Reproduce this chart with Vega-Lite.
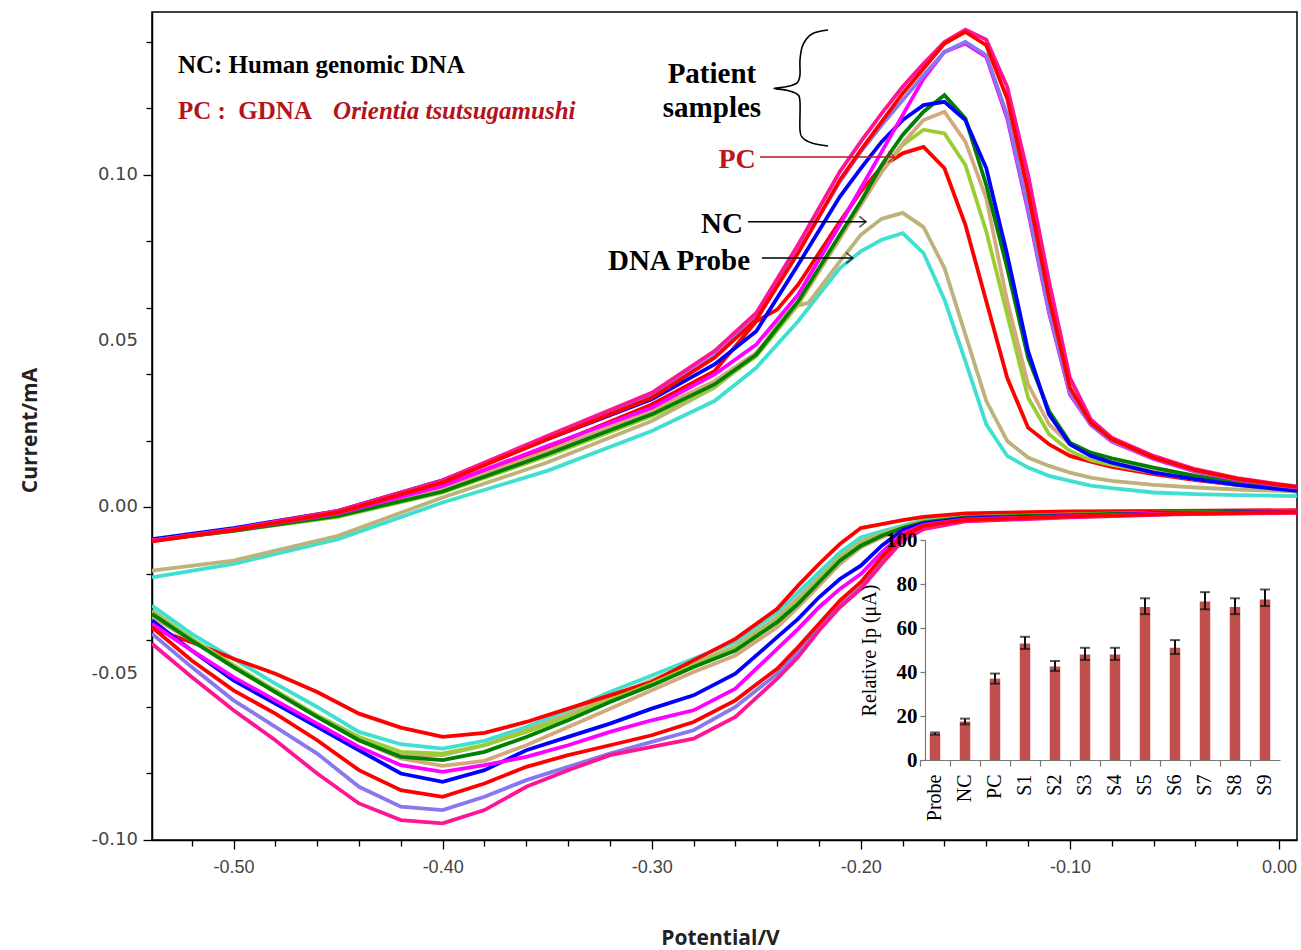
{
"$schema": "https://vega.github.io/schema/vega-lite/v6.json",
"width": 1145, "height": 828,
"autosize": {"type": "none"},
"padding": {"left": 152, "top": 12, "right": 4, "bottom": 110},
"background": "white",
"config": {"view": {"stroke": "#000", "strokeWidth": 1.5}, "axis": {"labelOverlap": false, "labelFlush": false, "labelBound": false, "grid": false}},
"datasets": {
"cv": [
{"s":"Probe","b":"u","v":-0.539,"i":-0.021},{"s":"Probe","b":"u","v":-0.5,"i":-0.017},{"s":"Probe","b":"u","v":-0.45,"i":-0.0095},{"s":"Probe","b":"u","v":-0.4,"i":0.0015},{"s":"Probe","b":"u","v":-0.35,"i":0.011},{"s":"Probe","b":"u","v":-0.3,"i":0.023},{"s":"Probe","b":"u","v":-0.27,"i":0.032},{"s":"Probe","b":"u","v":-0.25,"i":0.042},{"s":"Probe","b":"u","v":-0.23,"i":0.056},{"s":"Probe","b":"u","v":-0.21,"i":0.072},{"s":"Probe","b":"u","v":-0.2,"i":0.077},{"s":"Probe","b":"u","v":-0.19,"i":0.0805},{"s":"Probe","b":"u","v":-0.18,"i":0.0825},{"s":"Probe","b":"u","v":-0.17,"i":0.0765},{"s":"Probe","b":"u","v":-0.16,"i":0.0625},{"s":"Probe","b":"u","v":-0.15,"i":0.044},{"s":"Probe","b":"u","v":-0.14,"i":0.025},{"s":"Probe","b":"u","v":-0.13,"i":0.0155},{"s":"Probe","b":"u","v":-0.12,"i":0.012},{"s":"Probe","b":"u","v":-0.11,"i":0.0095},{"s":"Probe","b":"u","v":-0.1,"i":0.008},{"s":"Probe","b":"u","v":-0.09,"i":0.0066},{"s":"Probe","b":"u","v":-0.08,"i":0.0058},{"s":"Probe","b":"u","v":-0.06,"i":0.0045},{"s":"Probe","b":"u","v":-0.04,"i":0.004},{"s":"Probe","b":"u","v":-0.02,"i":0.0037},{"s":"Probe","b":"u","v":0.0,"i":0.0035},{"s":"Probe","b":"u","v":0.0086,"i":0.0034},
{"s":"NC","b":"u","v":-0.539,"i":-0.019},{"s":"NC","b":"u","v":-0.5,"i":-0.016},{"s":"NC","b":"u","v":-0.45,"i":-0.0085},{"s":"NC","b":"u","v":-0.4,"i":0.003},{"s":"NC","b":"u","v":-0.35,"i":0.0135},{"s":"NC","b":"u","v":-0.3,"i":0.026},{"s":"NC","b":"u","v":-0.27,"i":0.036},{"s":"NC","b":"u","v":-0.25,"i":0.046},{"s":"NC","b":"u","v":-0.24,"i":0.055},{"s":"NC","b":"u","v":-0.232,"i":0.0605},{"s":"NC","b":"u","v":-0.225,"i":0.0615},{"s":"NC","b":"u","v":-0.21,"i":0.074},{"s":"NC","b":"u","v":-0.2,"i":0.082},{"s":"NC","b":"u","v":-0.19,"i":0.0868},{"s":"NC","b":"u","v":-0.18,"i":0.0886},{"s":"NC","b":"u","v":-0.17,"i":0.0843},{"s":"NC","b":"u","v":-0.16,"i":0.072},{"s":"NC","b":"u","v":-0.15,"i":0.052},{"s":"NC","b":"u","v":-0.14,"i":0.032},{"s":"NC","b":"u","v":-0.13,"i":0.02},{"s":"NC","b":"u","v":-0.12,"i":0.015},{"s":"NC","b":"u","v":-0.11,"i":0.0125},{"s":"NC","b":"u","v":-0.1,"i":0.0105},{"s":"NC","b":"u","v":-0.09,"i":0.009},{"s":"NC","b":"u","v":-0.08,"i":0.008},{"s":"NC","b":"u","v":-0.06,"i":0.0068},{"s":"NC","b":"u","v":-0.04,"i":0.006},{"s":"NC","b":"u","v":-0.02,"i":0.0054},{"s":"NC","b":"u","v":0.0,"i":0.005},{"s":"NC","b":"u","v":0.0086,"i":0.0048},
{"s":"PC","b":"u","v":-0.539,"i":-0.01},{"s":"PC","b":"u","v":-0.5,"i":-0.0068},{"s":"PC","b":"u","v":-0.45,"i":-0.002},{"s":"PC","b":"u","v":-0.4,"i":0.0066},{"s":"PC","b":"u","v":-0.35,"i":0.018},{"s":"PC","b":"u","v":-0.3,"i":0.031},{"s":"PC","b":"u","v":-0.27,"i":0.041},{"s":"PC","b":"u","v":-0.25,"i":0.056},{"s":"PC","b":"u","v":-0.24,"i":0.0595},{"s":"PC","b":"u","v":-0.23,"i":0.067},{"s":"PC","b":"u","v":-0.21,"i":0.086},{"s":"PC","b":"u","v":-0.2,"i":0.095},{"s":"PC","b":"u","v":-0.19,"i":0.1025},{"s":"PC","b":"u","v":-0.18,"i":0.1065},{"s":"PC","b":"u","v":-0.17,"i":0.1084},{"s":"PC","b":"u","v":-0.16,"i":0.102},{"s":"PC","b":"u","v":-0.15,"i":0.085},{"s":"PC","b":"u","v":-0.14,"i":0.062},{"s":"PC","b":"u","v":-0.13,"i":0.039},{"s":"PC","b":"u","v":-0.12,"i":0.024},{"s":"PC","b":"u","v":-0.11,"i":0.019},{"s":"PC","b":"u","v":-0.1,"i":0.0155},{"s":"PC","b":"u","v":-0.09,"i":0.0138},{"s":"PC","b":"u","v":-0.08,"i":0.0122},{"s":"PC","b":"u","v":-0.06,"i":0.01},{"s":"PC","b":"u","v":-0.04,"i":0.0082},{"s":"PC","b":"u","v":-0.02,"i":0.0068},{"s":"PC","b":"u","v":0.0,"i":0.0058},{"s":"PC","b":"u","v":0.0086,"i":0.0055},
{"s":"S1","b":"u","v":-0.539,"i":-0.01},{"s":"S1","b":"u","v":-0.5,"i":-0.007},{"s":"S1","b":"u","v":-0.45,"i":-0.0028},{"s":"S1","b":"u","v":-0.4,"i":0.0045},{"s":"S1","b":"u","v":-0.35,"i":0.0155},{"s":"S1","b":"u","v":-0.3,"i":0.0275},{"s":"S1","b":"u","v":-0.27,"i":0.0365},{"s":"S1","b":"u","v":-0.25,"i":0.0455},{"s":"S1","b":"u","v":-0.23,"i":0.061},{"s":"S1","b":"u","v":-0.21,"i":0.081},{"s":"S1","b":"u","v":-0.2,"i":0.0915},{"s":"S1","b":"u","v":-0.19,"i":0.101},{"s":"S1","b":"u","v":-0.18,"i":0.109},{"s":"S1","b":"u","v":-0.17,"i":0.1136},{"s":"S1","b":"u","v":-0.16,"i":0.1125},{"s":"S1","b":"u","v":-0.15,"i":0.103},{"s":"S1","b":"u","v":-0.14,"i":0.083},{"s":"S1","b":"u","v":-0.13,"i":0.058},{"s":"S1","b":"u","v":-0.12,"i":0.033},{"s":"S1","b":"u","v":-0.11,"i":0.022},{"s":"S1","b":"u","v":-0.1,"i":0.017},{"s":"S1","b":"u","v":-0.09,"i":0.0142},{"s":"S1","b":"u","v":-0.08,"i":0.0128},{"s":"S1","b":"u","v":-0.06,"i":0.0105},{"s":"S1","b":"u","v":-0.04,"i":0.0085},{"s":"S1","b":"u","v":-0.02,"i":0.0068},{"s":"S1","b":"u","v":0.0,"i":0.0056},{"s":"S1","b":"u","v":0.0086,"i":0.0052},
{"s":"S2","b":"u","v":-0.539,"i":-0.01},{"s":"S2","b":"u","v":-0.5,"i":-0.0068},{"s":"S2","b":"u","v":-0.45,"i":-0.0022},{"s":"S2","b":"u","v":-0.4,"i":0.0055},{"s":"S2","b":"u","v":-0.35,"i":0.017},{"s":"S2","b":"u","v":-0.3,"i":0.029},{"s":"S2","b":"u","v":-0.27,"i":0.038},{"s":"S2","b":"u","v":-0.25,"i":0.0465},{"s":"S2","b":"u","v":-0.23,"i":0.0615},{"s":"S2","b":"u","v":-0.21,"i":0.081},{"s":"S2","b":"u","v":-0.2,"i":0.091},{"s":"S2","b":"u","v":-0.19,"i":0.101},{"s":"S2","b":"u","v":-0.18,"i":0.1095},{"s":"S2","b":"u","v":-0.17,"i":0.1165},{"s":"S2","b":"u","v":-0.16,"i":0.119},{"s":"S2","b":"u","v":-0.15,"i":0.11},{"s":"S2","b":"u","v":-0.14,"i":0.093},{"s":"S2","b":"u","v":-0.13,"i":0.062},{"s":"S2","b":"u","v":-0.12,"i":0.037},{"s":"S2","b":"u","v":-0.11,"i":0.025},{"s":"S2","b":"u","v":-0.1,"i":0.019},{"s":"S2","b":"u","v":-0.09,"i":0.016},{"s":"S2","b":"u","v":-0.08,"i":0.014},{"s":"S2","b":"u","v":-0.06,"i":0.0115},{"s":"S2","b":"u","v":-0.04,"i":0.0092},{"s":"S2","b":"u","v":-0.02,"i":0.0072},{"s":"S2","b":"u","v":0.0,"i":0.0058},{"s":"S2","b":"u","v":0.0086,"i":0.0053},
{"s":"S3","b":"u","v":-0.539,"i":-0.01},{"s":"S3","b":"u","v":-0.5,"i":-0.007},{"s":"S3","b":"u","v":-0.45,"i":-0.0025},{"s":"S3","b":"u","v":-0.4,"i":0.0048},{"s":"S3","b":"u","v":-0.35,"i":0.016},{"s":"S3","b":"u","v":-0.3,"i":0.028},{"s":"S3","b":"u","v":-0.27,"i":0.037},{"s":"S3","b":"u","v":-0.25,"i":0.046},{"s":"S3","b":"u","v":-0.23,"i":0.062},{"s":"S3","b":"u","v":-0.21,"i":0.082},{"s":"S3","b":"u","v":-0.2,"i":0.092},{"s":"S3","b":"u","v":-0.19,"i":0.103},{"s":"S3","b":"u","v":-0.18,"i":0.112},{"s":"S3","b":"u","v":-0.17,"i":0.119},{"s":"S3","b":"u","v":-0.16,"i":0.124},{"s":"S3","b":"u","v":-0.15,"i":0.117},{"s":"S3","b":"u","v":-0.14,"i":0.097},{"s":"S3","b":"u","v":-0.13,"i":0.072},{"s":"S3","b":"u","v":-0.12,"i":0.045},{"s":"S3","b":"u","v":-0.11,"i":0.029},{"s":"S3","b":"u","v":-0.1,"i":0.0195},{"s":"S3","b":"u","v":-0.09,"i":0.0165},{"s":"S3","b":"u","v":-0.08,"i":0.0148},{"s":"S3","b":"u","v":-0.06,"i":0.012},{"s":"S3","b":"u","v":-0.04,"i":0.0095},{"s":"S3","b":"u","v":-0.02,"i":0.0075},{"s":"S3","b":"u","v":0.0,"i":0.006},{"s":"S3","b":"u","v":0.0086,"i":0.0055},
{"s":"S4","b":"u","v":-0.539,"i":-0.0095},{"s":"S4","b":"u","v":-0.5,"i":-0.0062},{"s":"S4","b":"u","v":-0.45,"i":-0.001},{"s":"S4","b":"u","v":-0.4,"i":0.0082},{"s":"S4","b":"u","v":-0.35,"i":0.0205},{"s":"S4","b":"u","v":-0.3,"i":0.0325},{"s":"S4","b":"u","v":-0.27,"i":0.043},{"s":"S4","b":"u","v":-0.25,"i":0.053},{"s":"S4","b":"u","v":-0.23,"i":0.073},{"s":"S4","b":"u","v":-0.21,"i":0.0935},{"s":"S4","b":"u","v":-0.2,"i":0.102},{"s":"S4","b":"u","v":-0.19,"i":0.11},{"s":"S4","b":"u","v":-0.18,"i":0.1165},{"s":"S4","b":"u","v":-0.17,"i":0.121},{"s":"S4","b":"u","v":-0.16,"i":0.122},{"s":"S4","b":"u","v":-0.15,"i":0.1165},{"s":"S4","b":"u","v":-0.14,"i":0.102},{"s":"S4","b":"u","v":-0.13,"i":0.076},{"s":"S4","b":"u","v":-0.12,"i":0.047},{"s":"S4","b":"u","v":-0.11,"i":0.028},{"s":"S4","b":"u","v":-0.1,"i":0.019},{"s":"S4","b":"u","v":-0.09,"i":0.0155},{"s":"S4","b":"u","v":-0.08,"i":0.0135},{"s":"S4","b":"u","v":-0.06,"i":0.0105},{"s":"S4","b":"u","v":-0.04,"i":0.0085},{"s":"S4","b":"u","v":-0.02,"i":0.0068},{"s":"S4","b":"u","v":0.0,"i":0.0055},{"s":"S4","b":"u","v":0.0086,"i":0.005},
{"s":"S5","b":"u","v":-0.539,"i":-0.01},{"s":"S5","b":"u","v":-0.5,"i":-0.0068},{"s":"S5","b":"u","v":-0.45,"i":-0.0018},{"s":"S5","b":"u","v":-0.4,"i":0.0065},{"s":"S5","b":"u","v":-0.35,"i":0.0185},{"s":"S5","b":"u","v":-0.3,"i":0.03},{"s":"S5","b":"u","v":-0.27,"i":0.04},{"s":"S5","b":"u","v":-0.25,"i":0.049},{"s":"S5","b":"u","v":-0.23,"i":0.064},{"s":"S5","b":"u","v":-0.21,"i":0.085},{"s":"S5","b":"u","v":-0.2,"i":0.096},{"s":"S5","b":"u","v":-0.19,"i":0.107},{"s":"S5","b":"u","v":-0.18,"i":0.118},{"s":"S5","b":"u","v":-0.17,"i":0.129},{"s":"S5","b":"u","v":-0.16,"i":0.137},{"s":"S5","b":"u","v":-0.15,"i":0.1395},{"s":"S5","b":"u","v":-0.14,"i":0.1355},{"s":"S5","b":"u","v":-0.13,"i":0.117},{"s":"S5","b":"u","v":-0.12,"i":0.089},{"s":"S5","b":"u","v":-0.11,"i":0.0585},{"s":"S5","b":"u","v":-0.1,"i":0.034},{"s":"S5","b":"u","v":-0.09,"i":0.0248},{"s":"S5","b":"u","v":-0.08,"i":0.0198},{"s":"S5","b":"u","v":-0.06,"i":0.0146},{"s":"S5","b":"u","v":-0.04,"i":0.0108},{"s":"S5","b":"u","v":-0.02,"i":0.0083},{"s":"S5","b":"u","v":0.0,"i":0.0066},{"s":"S5","b":"u","v":0.0086,"i":0.006},
{"s":"S6","b":"u","v":-0.539,"i":-0.01},{"s":"S6","b":"u","v":-0.5,"i":-0.0067},{"s":"S6","b":"u","v":-0.45,"i":-0.0013},{"s":"S6","b":"u","v":-0.4,"i":0.0078},{"s":"S6","b":"u","v":-0.35,"i":0.021},{"s":"S6","b":"u","v":-0.3,"i":0.0335},{"s":"S6","b":"u","v":-0.27,"i":0.0455},{"s":"S6","b":"u","v":-0.25,"i":0.057},{"s":"S6","b":"u","v":-0.23,"i":0.077},{"s":"S6","b":"u","v":-0.21,"i":0.098},{"s":"S6","b":"u","v":-0.2,"i":0.107},{"s":"S6","b":"u","v":-0.19,"i":0.115},{"s":"S6","b":"u","v":-0.18,"i":0.1225},{"s":"S6","b":"u","v":-0.17,"i":0.13},{"s":"S6","b":"u","v":-0.16,"i":0.137},{"s":"S6","b":"u","v":-0.15,"i":0.14},{"s":"S6","b":"u","v":-0.14,"i":0.136},{"s":"S6","b":"u","v":-0.13,"i":0.118},{"s":"S6","b":"u","v":-0.12,"i":0.09},{"s":"S6","b":"u","v":-0.11,"i":0.059},{"s":"S6","b":"u","v":-0.1,"i":0.0345},{"s":"S6","b":"u","v":-0.09,"i":0.025},{"s":"S6","b":"u","v":-0.08,"i":0.02},{"s":"S6","b":"u","v":-0.06,"i":0.0148},{"s":"S6","b":"u","v":-0.04,"i":0.011},{"s":"S6","b":"u","v":-0.02,"i":0.0085},{"s":"S6","b":"u","v":0.0,"i":0.0067},{"s":"S6","b":"u","v":0.0086,"i":0.0061},
{"s":"S7","b":"u","v":-0.539,"i":-0.01},{"s":"S7","b":"u","v":-0.5,"i":-0.0065},{"s":"S7","b":"u","v":-0.45,"i":-0.001},{"s":"S7","b":"u","v":-0.4,"i":0.0082},{"s":"S7","b":"u","v":-0.35,"i":0.0215},{"s":"S7","b":"u","v":-0.3,"i":0.0345},{"s":"S7","b":"u","v":-0.27,"i":0.047},{"s":"S7","b":"u","v":-0.25,"i":0.0585},{"s":"S7","b":"u","v":-0.23,"i":0.079},{"s":"S7","b":"u","v":-0.21,"i":0.101},{"s":"S7","b":"u","v":-0.2,"i":0.11},{"s":"S7","b":"u","v":-0.19,"i":0.1185},{"s":"S7","b":"u","v":-0.18,"i":0.1265},{"s":"S7","b":"u","v":-0.17,"i":0.1335},{"s":"S7","b":"u","v":-0.16,"i":0.14},{"s":"S7","b":"u","v":-0.15,"i":0.1437},{"s":"S7","b":"u","v":-0.14,"i":0.1407},{"s":"S7","b":"u","v":-0.13,"i":0.1265},{"s":"S7","b":"u","v":-0.12,"i":0.1},{"s":"S7","b":"u","v":-0.11,"i":0.068},{"s":"S7","b":"u","v":-0.1,"i":0.039},{"s":"S7","b":"u","v":-0.09,"i":0.0265},{"s":"S7","b":"u","v":-0.08,"i":0.021},{"s":"S7","b":"u","v":-0.06,"i":0.0155},{"s":"S7","b":"u","v":-0.04,"i":0.0115},{"s":"S7","b":"u","v":-0.02,"i":0.0088},{"s":"S7","b":"u","v":0.0,"i":0.007},{"s":"S7","b":"u","v":0.0086,"i":0.0063},
{"s":"S8","b":"u","v":-0.539,"i":-0.0102},{"s":"S8","b":"u","v":-0.5,"i":-0.0068},{"s":"S8","b":"u","v":-0.45,"i":-0.0015},{"s":"S8","b":"u","v":-0.4,"i":0.0075},{"s":"S8","b":"u","v":-0.35,"i":0.0205},{"s":"S8","b":"u","v":-0.3,"i":0.033},{"s":"S8","b":"u","v":-0.27,"i":0.045},{"s":"S8","b":"u","v":-0.25,"i":0.0565},{"s":"S8","b":"u","v":-0.23,"i":0.0765},{"s":"S8","b":"u","v":-0.21,"i":0.0985},{"s":"S8","b":"u","v":-0.2,"i":0.1075},{"s":"S8","b":"u","v":-0.19,"i":0.116},{"s":"S8","b":"u","v":-0.18,"i":0.1245},{"s":"S8","b":"u","v":-0.17,"i":0.132},{"s":"S8","b":"u","v":-0.16,"i":0.1395},{"s":"S8","b":"u","v":-0.15,"i":0.143},{"s":"S8","b":"u","v":-0.14,"i":0.139},{"s":"S8","b":"u","v":-0.13,"i":0.123},{"s":"S8","b":"u","v":-0.12,"i":0.095},{"s":"S8","b":"u","v":-0.11,"i":0.063},{"s":"S8","b":"u","v":-0.1,"i":0.036},{"s":"S8","b":"u","v":-0.09,"i":0.0255},{"s":"S8","b":"u","v":-0.08,"i":0.0205},{"s":"S8","b":"u","v":-0.06,"i":0.015},{"s":"S8","b":"u","v":-0.04,"i":0.0112},{"s":"S8","b":"u","v":-0.02,"i":0.0086},{"s":"S8","b":"u","v":0.0,"i":0.0068},{"s":"S8","b":"u","v":0.0086,"i":0.0062},

{"s":"Probe","b":"l","v":0.0086,"i":-0.001},{"s":"Probe","b":"l","v":-0.05,"i":-0.0013},{"s":"Probe","b":"l","v":-0.1,"i":-0.0018},{"s":"Probe","b":"l","v":-0.15,"i":-0.0026},{"s":"Probe","b":"l","v":-0.17,"i":-0.0038},{"s":"Probe","b":"l","v":-0.18,"i":-0.0055},{"s":"Probe","b":"l","v":-0.19,"i":-0.0072},{"s":"Probe","b":"l","v":-0.2,"i":-0.009},{"s":"Probe","b":"l","v":-0.21,"i":-0.0135},{"s":"Probe","b":"l","v":-0.22,"i":-0.0195},{"s":"Probe","b":"l","v":-0.23,"i":-0.0255},{"s":"Probe","b":"l","v":-0.24,"i":-0.0315},{"s":"Probe","b":"l","v":-0.26,"i":-0.0405},{"s":"Probe","b":"l","v":-0.28,"i":-0.0455},{"s":"Probe","b":"l","v":-0.3,"i":-0.0505},{"s":"Probe","b":"l","v":-0.32,"i":-0.0555},{"s":"Probe","b":"l","v":-0.34,"i":-0.061},{"s":"Probe","b":"l","v":-0.36,"i":-0.066},{"s":"Probe","b":"l","v":-0.38,"i":-0.0702},{"s":"Probe","b":"l","v":-0.4,"i":-0.0725},{"s":"Probe","b":"l","v":-0.42,"i":-0.0712},{"s":"Probe","b":"l","v":-0.44,"i":-0.0675},{"s":"Probe","b":"l","v":-0.46,"i":-0.06},{"s":"Probe","b":"l","v":-0.48,"i":-0.053},{"s":"Probe","b":"l","v":-0.5,"i":-0.0455},{"s":"Probe","b":"l","v":-0.52,"i":-0.038},{"s":"Probe","b":"l","v":-0.539,"i":-0.0295},
{"s":"NC","b":"l","v":0.0086,"i":-0.0011},{"s":"NC","b":"l","v":-0.05,"i":-0.0014},{"s":"NC","b":"l","v":-0.1,"i":-0.002},{"s":"NC","b":"l","v":-0.15,"i":-0.0028},{"s":"NC","b":"l","v":-0.17,"i":-0.0041},{"s":"NC","b":"l","v":-0.18,"i":-0.0058},{"s":"NC","b":"l","v":-0.19,"i":-0.0078},{"s":"NC","b":"l","v":-0.2,"i":-0.0102},{"s":"NC","b":"l","v":-0.21,"i":-0.0148},{"s":"NC","b":"l","v":-0.22,"i":-0.021},{"s":"NC","b":"l","v":-0.23,"i":-0.0272},{"s":"NC","b":"l","v":-0.24,"i":-0.033},{"s":"NC","b":"l","v":-0.26,"i":-0.0418},{"s":"NC","b":"l","v":-0.28,"i":-0.0468},{"s":"NC","b":"l","v":-0.3,"i":-0.052},{"s":"NC","b":"l","v":-0.32,"i":-0.057},{"s":"NC","b":"l","v":-0.34,"i":-0.0622},{"s":"NC","b":"l","v":-0.36,"i":-0.067},{"s":"NC","b":"l","v":-0.38,"i":-0.0715},{"s":"NC","b":"l","v":-0.4,"i":-0.0745},{"s":"NC","b":"l","v":-0.42,"i":-0.0745},{"s":"NC","b":"l","v":-0.44,"i":-0.07},{"s":"NC","b":"l","v":-0.46,"i":-0.063},{"s":"NC","b":"l","v":-0.48,"i":-0.0555},{"s":"NC","b":"l","v":-0.5,"i":-0.0475},{"s":"NC","b":"l","v":-0.52,"i":-0.0395},{"s":"NC","b":"l","v":-0.539,"i":-0.031},
{"s":"PC","b":"l","v":0.0086,"i":-0.0008},{"s":"PC","b":"l","v":-0.05,"i":-0.001},{"s":"PC","b":"l","v":-0.1,"i":-0.0012},{"s":"PC","b":"l","v":-0.15,"i":-0.0018},{"s":"PC","b":"l","v":-0.17,"i":-0.0028},{"s":"PC","b":"l","v":-0.18,"i":-0.0038},{"s":"PC","b":"l","v":-0.19,"i":-0.005},{"s":"PC","b":"l","v":-0.2,"i":-0.0062},{"s":"PC","b":"l","v":-0.21,"i":-0.011},{"s":"PC","b":"l","v":-0.22,"i":-0.017},{"s":"PC","b":"l","v":-0.23,"i":-0.0235},{"s":"PC","b":"l","v":-0.24,"i":-0.0305},{"s":"PC","b":"l","v":-0.26,"i":-0.0395},{"s":"PC","b":"l","v":-0.28,"i":-0.046},{"s":"PC","b":"l","v":-0.3,"i":-0.0525},{"s":"PC","b":"l","v":-0.32,"i":-0.0565},{"s":"PC","b":"l","v":-0.34,"i":-0.0605},{"s":"PC","b":"l","v":-0.36,"i":-0.0645},{"s":"PC","b":"l","v":-0.38,"i":-0.0678},{"s":"PC","b":"l","v":-0.4,"i":-0.069},{"s":"PC","b":"l","v":-0.42,"i":-0.0662},{"s":"PC","b":"l","v":-0.44,"i":-0.062},{"s":"PC","b":"l","v":-0.46,"i":-0.0555},{"s":"PC","b":"l","v":-0.48,"i":-0.05},{"s":"PC","b":"l","v":-0.5,"i":-0.0455},{"s":"PC","b":"l","v":-0.52,"i":-0.0405},{"s":"PC","b":"l","v":-0.539,"i":-0.0364},
{"s":"S1","b":"l","v":0.0086,"i":-0.0012},{"s":"S1","b":"l","v":-0.05,"i":-0.0015},{"s":"S1","b":"l","v":-0.1,"i":-0.0021},{"s":"S1","b":"l","v":-0.15,"i":-0.0029},{"s":"S1","b":"l","v":-0.17,"i":-0.0043},{"s":"S1","b":"l","v":-0.18,"i":-0.006},{"s":"S1","b":"l","v":-0.19,"i":-0.0082},{"s":"S1","b":"l","v":-0.2,"i":-0.011},{"s":"S1","b":"l","v":-0.21,"i":-0.0155},{"s":"S1","b":"l","v":-0.22,"i":-0.022},{"s":"S1","b":"l","v":-0.23,"i":-0.0285},{"s":"S1","b":"l","v":-0.24,"i":-0.034},{"s":"S1","b":"l","v":-0.26,"i":-0.0425},{"s":"S1","b":"l","v":-0.28,"i":-0.0475},{"s":"S1","b":"l","v":-0.3,"i":-0.053},{"s":"S1","b":"l","v":-0.32,"i":-0.058},{"s":"S1","b":"l","v":-0.34,"i":-0.063},{"s":"S1","b":"l","v":-0.36,"i":-0.0675},{"s":"S1","b":"l","v":-0.38,"i":-0.0715},{"s":"S1","b":"l","v":-0.4,"i":-0.074},{"s":"S1","b":"l","v":-0.42,"i":-0.0735},{"s":"S1","b":"l","v":-0.44,"i":-0.069},{"s":"S1","b":"l","v":-0.46,"i":-0.0625},{"s":"S1","b":"l","v":-0.48,"i":-0.055},{"s":"S1","b":"l","v":-0.5,"i":-0.0475},{"s":"S1","b":"l","v":-0.52,"i":-0.0395},{"s":"S1","b":"l","v":-0.539,"i":-0.0315},
{"s":"S2","b":"l","v":0.0086,"i":-0.0013},{"s":"S2","b":"l","v":-0.05,"i":-0.0016},{"s":"S2","b":"l","v":-0.1,"i":-0.0023},{"s":"S2","b":"l","v":-0.15,"i":-0.0031},{"s":"S2","b":"l","v":-0.17,"i":-0.0047},{"s":"S2","b":"l","v":-0.18,"i":-0.0065},{"s":"S2","b":"l","v":-0.19,"i":-0.009},{"s":"S2","b":"l","v":-0.2,"i":-0.012},{"s":"S2","b":"l","v":-0.21,"i":-0.017},{"s":"S2","b":"l","v":-0.22,"i":-0.0235},{"s":"S2","b":"l","v":-0.23,"i":-0.03},{"s":"S2","b":"l","v":-0.24,"i":-0.036},{"s":"S2","b":"l","v":-0.26,"i":-0.0445},{"s":"S2","b":"l","v":-0.28,"i":-0.0495},{"s":"S2","b":"l","v":-0.3,"i":-0.055},{"s":"S2","b":"l","v":-0.32,"i":-0.0605},{"s":"S2","b":"l","v":-0.34,"i":-0.066},{"s":"S2","b":"l","v":-0.36,"i":-0.0715},{"s":"S2","b":"l","v":-0.38,"i":-0.0762},{"s":"S2","b":"l","v":-0.4,"i":-0.0777},{"s":"S2","b":"l","v":-0.42,"i":-0.0755},{"s":"S2","b":"l","v":-0.44,"i":-0.07},{"s":"S2","b":"l","v":-0.46,"i":-0.063},{"s":"S2","b":"l","v":-0.48,"i":-0.0555},{"s":"S2","b":"l","v":-0.5,"i":-0.048},{"s":"S2","b":"l","v":-0.52,"i":-0.04},{"s":"S2","b":"l","v":-0.539,"i":-0.033},
{"s":"S3","b":"l","v":0.0086,"i":-0.0012},{"s":"S3","b":"l","v":-0.05,"i":-0.0015},{"s":"S3","b":"l","v":-0.1,"i":-0.0022},{"s":"S3","b":"l","v":-0.15,"i":-0.003},{"s":"S3","b":"l","v":-0.17,"i":-0.0045},{"s":"S3","b":"l","v":-0.18,"i":-0.0062},{"s":"S3","b":"l","v":-0.19,"i":-0.0085},{"s":"S3","b":"l","v":-0.2,"i":-0.0115},{"s":"S3","b":"l","v":-0.21,"i":-0.016},{"s":"S3","b":"l","v":-0.22,"i":-0.0225},{"s":"S3","b":"l","v":-0.23,"i":-0.029},{"s":"S3","b":"l","v":-0.24,"i":-0.0345},{"s":"S3","b":"l","v":-0.26,"i":-0.043},{"s":"S3","b":"l","v":-0.28,"i":-0.048},{"s":"S3","b":"l","v":-0.3,"i":-0.0535},{"s":"S3","b":"l","v":-0.32,"i":-0.0585},{"s":"S3","b":"l","v":-0.34,"i":-0.064},{"s":"S3","b":"l","v":-0.36,"i":-0.069},{"s":"S3","b":"l","v":-0.38,"i":-0.0735},{"s":"S3","b":"l","v":-0.4,"i":-0.076},{"s":"S3","b":"l","v":-0.42,"i":-0.075},{"s":"S3","b":"l","v":-0.44,"i":-0.07},{"s":"S3","b":"l","v":-0.46,"i":-0.063},{"s":"S3","b":"l","v":-0.48,"i":-0.0555},{"s":"S3","b":"l","v":-0.5,"i":-0.048},{"s":"S3","b":"l","v":-0.52,"i":-0.04},{"s":"S3","b":"l","v":-0.539,"i":-0.032},
{"s":"S4","b":"l","v":0.0086,"i":-0.0013},{"s":"S4","b":"l","v":-0.05,"i":-0.0017},{"s":"S4","b":"l","v":-0.1,"i":-0.0025},{"s":"S4","b":"l","v":-0.15,"i":-0.0033},{"s":"S4","b":"l","v":-0.17,"i":-0.0048},{"s":"S4","b":"l","v":-0.18,"i":-0.0068},{"s":"S4","b":"l","v":-0.19,"i":-0.0115},{"s":"S4","b":"l","v":-0.2,"i":-0.0175},{"s":"S4","b":"l","v":-0.21,"i":-0.0215},{"s":"S4","b":"l","v":-0.22,"i":-0.027},{"s":"S4","b":"l","v":-0.23,"i":-0.0335},{"s":"S4","b":"l","v":-0.24,"i":-0.039},{"s":"S4","b":"l","v":-0.26,"i":-0.05},{"s":"S4","b":"l","v":-0.28,"i":-0.0565},{"s":"S4","b":"l","v":-0.3,"i":-0.0605},{"s":"S4","b":"l","v":-0.32,"i":-0.065},{"s":"S4","b":"l","v":-0.34,"i":-0.069},{"s":"S4","b":"l","v":-0.36,"i":-0.073},{"s":"S4","b":"l","v":-0.38,"i":-0.079},{"s":"S4","b":"l","v":-0.4,"i":-0.0825},{"s":"S4","b":"l","v":-0.42,"i":-0.08},{"s":"S4","b":"l","v":-0.44,"i":-0.073},{"s":"S4","b":"l","v":-0.46,"i":-0.066},{"s":"S4","b":"l","v":-0.48,"i":-0.059},{"s":"S4","b":"l","v":-0.5,"i":-0.052},{"s":"S4","b":"l","v":-0.52,"i":-0.043},{"s":"S4","b":"l","v":-0.539,"i":-0.034},
{"s":"S5","b":"l","v":0.0086,"i":-0.0014},{"s":"S5","b":"l","v":-0.05,"i":-0.0018},{"s":"S5","b":"l","v":-0.1,"i":-0.0026},{"s":"S5","b":"l","v":-0.15,"i":-0.0036},{"s":"S5","b":"l","v":-0.17,"i":-0.0052},{"s":"S5","b":"l","v":-0.18,"i":-0.0078},{"s":"S5","b":"l","v":-0.19,"i":-0.0135},{"s":"S5","b":"l","v":-0.2,"i":-0.02},{"s":"S5","b":"l","v":-0.21,"i":-0.0245},{"s":"S5","b":"l","v":-0.22,"i":-0.03},{"s":"S5","b":"l","v":-0.23,"i":-0.0365},{"s":"S5","b":"l","v":-0.24,"i":-0.0425},{"s":"S5","b":"l","v":-0.26,"i":-0.0545},{"s":"S5","b":"l","v":-0.28,"i":-0.061},{"s":"S5","b":"l","v":-0.3,"i":-0.064},{"s":"S5","b":"l","v":-0.32,"i":-0.0675},{"s":"S5","b":"l","v":-0.34,"i":-0.0715},{"s":"S5","b":"l","v":-0.36,"i":-0.075},{"s":"S5","b":"l","v":-0.38,"i":-0.0775},{"s":"S5","b":"l","v":-0.4,"i":-0.0795},{"s":"S5","b":"l","v":-0.42,"i":-0.0775},{"s":"S5","b":"l","v":-0.44,"i":-0.072},{"s":"S5","b":"l","v":-0.46,"i":-0.065},{"s":"S5","b":"l","v":-0.48,"i":-0.058},{"s":"S5","b":"l","v":-0.5,"i":-0.051},{"s":"S5","b":"l","v":-0.52,"i":-0.043},{"s":"S5","b":"l","v":-0.539,"i":-0.035},
{"s":"S6","b":"l","v":0.0086,"i":-0.0015},{"s":"S6","b":"l","v":-0.05,"i":-0.002},{"s":"S6","b":"l","v":-0.1,"i":-0.0028},{"s":"S6","b":"l","v":-0.15,"i":-0.004},{"s":"S6","b":"l","v":-0.17,"i":-0.006},{"s":"S6","b":"l","v":-0.18,"i":-0.0095},{"s":"S6","b":"l","v":-0.19,"i":-0.0165},{"s":"S6","b":"l","v":-0.2,"i":-0.024},{"s":"S6","b":"l","v":-0.21,"i":-0.0295},{"s":"S6","b":"l","v":-0.22,"i":-0.0365},{"s":"S6","b":"l","v":-0.23,"i":-0.0435},{"s":"S6","b":"l","v":-0.24,"i":-0.05},{"s":"S6","b":"l","v":-0.26,"i":-0.06},{"s":"S6","b":"l","v":-0.28,"i":-0.067},{"s":"S6","b":"l","v":-0.3,"i":-0.0705},{"s":"S6","b":"l","v":-0.32,"i":-0.074},{"s":"S6","b":"l","v":-0.34,"i":-0.078},{"s":"S6","b":"l","v":-0.36,"i":-0.082},{"s":"S6","b":"l","v":-0.38,"i":-0.087},{"s":"S6","b":"l","v":-0.4,"i":-0.091},{"s":"S6","b":"l","v":-0.42,"i":-0.09},{"s":"S6","b":"l","v":-0.44,"i":-0.084},{"s":"S6","b":"l","v":-0.46,"i":-0.074},{"s":"S6","b":"l","v":-0.48,"i":-0.066},{"s":"S6","b":"l","v":-0.5,"i":-0.058},{"s":"S6","b":"l","v":-0.52,"i":-0.048},{"s":"S6","b":"l","v":-0.539,"i":-0.038},
{"s":"S7","b":"l","v":0.0086,"i":-0.0016},{"s":"S7","b":"l","v":-0.05,"i":-0.0021},{"s":"S7","b":"l","v":-0.1,"i":-0.003},{"s":"S7","b":"l","v":-0.15,"i":-0.0042},{"s":"S7","b":"l","v":-0.17,"i":-0.0065},{"s":"S7","b":"l","v":-0.18,"i":-0.01},{"s":"S7","b":"l","v":-0.19,"i":-0.017},{"s":"S7","b":"l","v":-0.2,"i":-0.0245},{"s":"S7","b":"l","v":-0.21,"i":-0.03},{"s":"S7","b":"l","v":-0.22,"i":-0.037},{"s":"S7","b":"l","v":-0.23,"i":-0.045},{"s":"S7","b":"l","v":-0.24,"i":-0.0515},{"s":"S7","b":"l","v":-0.26,"i":-0.063},{"s":"S7","b":"l","v":-0.28,"i":-0.0695},{"s":"S7","b":"l","v":-0.3,"i":-0.072},{"s":"S7","b":"l","v":-0.32,"i":-0.0745},{"s":"S7","b":"l","v":-0.34,"i":-0.079},{"s":"S7","b":"l","v":-0.36,"i":-0.084},{"s":"S7","b":"l","v":-0.38,"i":-0.091},{"s":"S7","b":"l","v":-0.4,"i":-0.095},{"s":"S7","b":"l","v":-0.42,"i":-0.094},{"s":"S7","b":"l","v":-0.44,"i":-0.089},{"s":"S7","b":"l","v":-0.46,"i":-0.08},{"s":"S7","b":"l","v":-0.48,"i":-0.07},{"s":"S7","b":"l","v":-0.5,"i":-0.061},{"s":"S7","b":"l","v":-0.52,"i":-0.051},{"s":"S7","b":"l","v":-0.539,"i":-0.041},
{"s":"S8","b":"l","v":0.0086,"i":-0.0014},{"s":"S8","b":"l","v":-0.05,"i":-0.0019},{"s":"S8","b":"l","v":-0.1,"i":-0.0027},{"s":"S8","b":"l","v":-0.15,"i":-0.0037},{"s":"S8","b":"l","v":-0.17,"i":-0.0055},{"s":"S8","b":"l","v":-0.18,"i":-0.0085},{"s":"S8","b":"l","v":-0.19,"i":-0.015},{"s":"S8","b":"l","v":-0.2,"i":-0.0225},{"s":"S8","b":"l","v":-0.21,"i":-0.028},{"s":"S8","b":"l","v":-0.22,"i":-0.035},{"s":"S8","b":"l","v":-0.23,"i":-0.042},{"s":"S8","b":"l","v":-0.24,"i":-0.0485},{"s":"S8","b":"l","v":-0.26,"i":-0.058},{"s":"S8","b":"l","v":-0.28,"i":-0.0645},{"s":"S8","b":"l","v":-0.3,"i":-0.0685},{"s":"S8","b":"l","v":-0.32,"i":-0.0715},{"s":"S8","b":"l","v":-0.34,"i":-0.0745},{"s":"S8","b":"l","v":-0.36,"i":-0.078},{"s":"S8","b":"l","v":-0.38,"i":-0.083},{"s":"S8","b":"l","v":-0.4,"i":-0.087},{"s":"S8","b":"l","v":-0.42,"i":-0.085},{"s":"S8","b":"l","v":-0.44,"i":-0.079},{"s":"S8","b":"l","v":-0.46,"i":-0.07},{"s":"S8","b":"l","v":-0.48,"i":-0.062},{"s":"S8","b":"l","v":-0.5,"i":-0.055},{"s":"S8","b":"l","v":-0.52,"i":-0.046},{"s":"S8","b":"l","v":-0.539,"i":-0.036}
],
"bars": [
{"c":"Probe","m":12,"lo":11.5,"hi":12.5},{"c":"NC","m":17.5,"lo":16.2,"hi":18.8},{"c":"PC","m":37,"lo":34.7,"hi":39.3},{"c":"S1","m":53,"lo":50.5,"hi":56},{"c":"S2","m":42.5,"lo":40.5,"hi":45},{"c":"S3","m":48,"lo":45.5,"hi":51},{"c":"S4","m":48,"lo":45.5,"hi":51},{"c":"S5","m":69.5,"lo":66.3,"hi":73.5},{"c":"S6","m":51,"lo":48.2,"hi":54.5},{"c":"S7","m":72,"lo":68.5,"hi":76.3},{"c":"S8","m":69.5,"lo":66.3,"hi":73.5},{"c":"S9","m":73,"lo":70,"hi":77.5}
],
"brace": [
{"k":1,"v":-0.2157,"i":0.1436},{"k":2,"v":-0.2234,"i":0.1424},{"k":3,"v":-0.2277,"i":0.1391},{"k":4,"v":-0.2291,"i":0.1346},{"k":5,"v":-0.2291,"i":0.1301},{"k":6,"v":-0.2305,"i":0.1277},{"k":7,"v":-0.2358,"i":0.1265},{"k":8,"v":-0.2415,"i":0.126},{"k":9,"v":-0.2358,"i":0.1255},{"k":10,"v":-0.2305,"i":0.1243},{"k":11,"v":-0.2291,"i":0.122},{"k":12,"v":-0.2291,"i":0.1135},{"k":13,"v":-0.2277,"i":0.1111},{"k":14,"v":-0.2234,"i":0.1096},{"k":15,"v":-0.2157,"i":0.1087}
],
"ylabels": [
{"v":-0.539,"i":0.1,"t":"0.10"},{"v":-0.539,"i":0.05,"t":"0.05"},{"v":-0.539,"i":0.0,"t":"0.00"},{"v":-0.539,"i":-0.05,"t":"-0.05"},{"v":-0.539,"i":-0.1,"t":"-0.10"}
]
},
"layer": [
{
"layer": [
{
"data": {"name": "cv"},
"mark": {"type": "line", "strokeWidth": 3.8, "clip": true},
"encoding": {
"x": {"field": "v", "type": "quantitative",
 "scale": {"domain": [-0.539, 0.0086], "nice": false, "zero": false},
 "axis": {"values": [-0.52,-0.5,-0.48,-0.46,-0.44,-0.42,-0.4,-0.38,-0.36,-0.34,-0.32,-0.3,-0.28,-0.26,-0.24,-0.22,-0.2,-0.18,-0.16,-0.14,-0.12,-0.1,-0.08,-0.06,-0.04,-0.02,0],
  "labelExpr": "abs(round(datum.value*50)) % 5 === 0 ? (datum.value < -0.0001 ? '-' : '') + format(abs(datum.value), '.2f') : ''",
  "tickSize": {"condition": {"test": "abs(round(datum.value*50)) % 5 === 0", "value": 9}, "value": 6},
  "labelOverlap": false, "labelFlush": false,
  "labelFont": "Liberation Sans", "labelFontSize": 18, "labelColor": "#444", "labelPadding": 9,
  "domainColor": "#000", "domainWidth": 1.5, "tickColor": "#000", "tickWidth": 1.3,
  "title": "Potential/V", "titleFont": "Open Sans", "titleFontSize": 21, "titleFontWeight": "bold", "titleColor": "#222",
  "titleX": 568, "titleY": 98, "titleAlign": "center", "titleBaseline": "middle"}},
"y": {"field": "i", "type": "quantitative",
 "scale": {"domain": [-0.1, 0.149], "nice": false, "zero": false},
 "axis": {"values": [-0.1,-0.09,-0.08,-0.07,-0.06,-0.05,-0.04,-0.03,-0.02,-0.01,0,0.01,0.02,0.03,0.04,0.05,0.06,0.07,0.08,0.09,0.1,0.11,0.12,0.13,0.14],
  "labels": false,
  "tickSize": {"condition": {"test": "abs(datum.value*20 - round(datum.value*20)) < 0.01", "value": 9}, "value": 6},
  "domainColor": "#000", "domainWidth": 1.5, "tickColor": "#000", "tickWidth": 1.3,
  "title": "Current/mA", "titleFont": "Open Sans", "titleFontSize": 21, "titleFontWeight": "bold", "titleColor": "#222",
  "titleX": -122, "titleY": 418, "titleAngle": 270, "titleAlign": "center", "titleBaseline": "middle"}},
"color": {"field": "s", "type": "nominal", "legend": null,
 "scale": {"domain": ["Probe","NC","PC","S1","S2","S3","S4","S5","S6","S7","S8"],
  "range": ["#40E0D0","#BDB27A","#FF0000","#9ACD32","#D2A87C","#008000","#0000FF","#FF00FF","#8878EE","#FF1493","#FF0000"]}},
"detail": {"field": "b"}
}
},
{
"data": {"name": "ylabels"},
"mark": {"type": "text", "align": "right", "baseline": "middle", "dx": -14, "font": "DejaVu Sans", "fontSize": 18, "color": "#444", "clip": false},
"encoding": {"x": {"field": "v", "type": "quantitative"}, "y": {"field": "i", "type": "quantitative"}, "text": {"field": "t"}}
},
{
"data": {"name": "brace"},
"mark": {"type": "line", "color": "#000", "strokeWidth": 1.6, "interpolate": "cardinal"},
"encoding": {"x": {"field": "v", "type": "quantitative"}, "y": {"field": "i", "type": "quantitative"}, "order": {"field": "k"}}
},
{
"data": {"values": [{"v": -0.2482, "v2": -0.1837, "i": 0.1054}]},
"mark": {"type": "rule", "color": "#C0151B", "strokeWidth": 1.5},
"encoding": {"x": {"field": "v", "type": "quantitative"}, "x2": {"field": "v2"}, "y": {"field": "i", "type": "quantitative"}}
},
{
"data": {"values": [{"v": -0.254, "v2": -0.1975, "i": 0.0859}, {"v": -0.2473, "v2": -0.2038, "i": 0.075}]},
"mark": {"type": "rule", "color": "#000", "strokeWidth": 1.5},
"encoding": {"x": {"field": "v", "type": "quantitative"}, "x2": {"field": "v2"}, "y": {"field": "i", "type": "quantitative"}}
},
{
"data": {"values": [{"v": -0.1837, "i": 0.1054}]},
"mark": {"type": "point", "shape": "M-1,-0.8L0,0L-1,0.8", "filled": false, "size": 180, "strokeWidth": 1.5, "color": "#C0151B"},
"encoding": {"x": {"field": "v", "type": "quantitative"}, "y": {"field": "i", "type": "quantitative"}}
},
{
"data": {"values": [{"v": -0.1975, "i": 0.0859}, {"v": -0.2038, "i": 0.075}]},
"mark": {"type": "point", "shape": "M-1,-0.8L0,0L-1,0.8", "filled": false, "size": 180, "strokeWidth": 1.5, "color": "#000"},
"encoding": {"x": {"field": "v", "type": "quantitative"}, "y": {"field": "i", "type": "quantitative"}}
},
{
"data": {"values": [{"t": "NC: Human genomic DNA", "v": -0.5266, "i": 0.1307}]},
"mark": {"type": "text", "align": "left", "baseline": "alphabetic", "font": "Liberation Serif", "fontWeight": "bold", "fontSize": 25, "color": "#000"},
"encoding": {"x": {"field": "v", "type": "quantitative"}, "y": {"field": "i", "type": "quantitative"}, "text": {"field": "t"}}
},
{
"data": {"values": [{"t": "PC :\u00a0 GDNA", "v": -0.5266, "i": 0.1168}]},
"mark": {"type": "text", "align": "left", "baseline": "alphabetic", "font": "Liberation Serif", "fontWeight": "bold", "fontSize": 25, "color": "#B5121B"},
"encoding": {"x": {"field": "v", "type": "quantitative"}, "y": {"field": "i", "type": "quantitative"}, "text": {"field": "t"}}
},
{
"data": {"values": [{"t": "Orientia tsutsugamushi", "v": -0.4524, "i": 0.1168}]},
"mark": {"type": "text", "align": "left", "baseline": "alphabetic", "font": "Liberation Serif", "fontWeight": "bold", "fontStyle": "italic", "fontSize": 25, "color": "#B5121B"},
"encoding": {"x": {"field": "v", "type": "quantitative"}, "y": {"field": "i", "type": "quantitative"}, "text": {"field": "t"}}
},
{
"data": {"values": [{"t": "Patient", "v": -0.2712, "i": 0.1277}, {"t": "samples", "v": -0.2712, "i": 0.1174}]},
"mark": {"type": "text", "align": "center", "baseline": "alphabetic", "font": "Liberation Serif", "fontWeight": "bold", "fontSize": 29, "color": "#000"},
"encoding": {"x": {"field": "v", "type": "quantitative"}, "y": {"field": "i", "type": "quantitative"}, "text": {"field": "t"}}
},
{
"data": {"values": [{"t": "PC", "v": -0.2592, "i": 0.1021}]},
"mark": {"type": "text", "align": "center", "baseline": "alphabetic", "font": "Liberation Serif", "fontWeight": "bold", "fontSize": 28, "color": "#C0151B"},
"encoding": {"x": {"field": "v", "type": "quantitative"}, "y": {"field": "i", "type": "quantitative"}, "text": {"field": "t"}}
},
{
"data": {"values": [{"t": "NC", "v": -0.2564, "i": 0.0826}, {"t": "DNA Probe", "v": -0.253, "i": 0.0714}]},
"mark": {"type": "text", "align": "right", "baseline": "alphabetic", "font": "Liberation Serif", "fontWeight": "bold", "fontSize": 29, "color": "#000"},
"encoding": {"x": {"field": "v", "type": "quantitative"}, "y": {"field": "i", "type": "quantitative"}, "text": {"field": "t"}}
}
]
},
{
"data": {"name": "bars"},
"layer": [
{
"mark": {"type": "bar", "color": "#C0504D", "width": {"band": 0.35}},
"encoding": {
"x": {"field": "c", "type": "nominal", "sort": null,
 "scale": {"range": [768, 1128], "paddingInner": 0, "paddingOuter": 0},
 "axis": {"orient": "bottom", "offset": -80, "labelAngle": 270, "labelAlign": "right", "labelBaseline": "middle",
  "labelFont": "Liberation Serif", "labelFontSize": 20, "labelColor": "#000", "labelPadding": 8, "zindex": 2,
  "bandPosition": 0, "tickSize": 6, "domainColor": "#777", "tickColor": "#777", "domainWidth": 1.2, "tickWidth": 1.2, "title": null}},
"y": {"field": "m", "type": "quantitative",
 "scale": {"domain": [0, 100], "range": [748, 528], "nice": false},
 "axis": {"orient": "left", "offset": -773, "values": [0, 20, 40, 60, 80, 100], "zindex": 2,
  "labelFont": "Liberation Serif", "labelFontWeight": "bold", "labelFontSize": 21, "labelColor": "#000", "labelPadding": 3,
  "tickSize": 5, "domainColor": "#777", "tickColor": "#777", "domainWidth": 1.2, "tickWidth": 1.2,
  "title": "Relative Ip (μA)", "titleFont": "Liberation Serif", "titleFontSize": 20, "titleFontWeight": "normal", "titleColor": "#000", "titlePadding": 6}}
}
},
{
"mark": {"type": "rule", "color": "#111", "strokeWidth": 2},
"encoding": {"x": {"field": "c", "type": "nominal", "sort": null}, "y": {"field": "lo", "type": "quantitative"}, "y2": {"field": "hi"}}
},
{
"mark": {"type": "tick", "color": "#111", "thickness": 2, "size": 10},
"encoding": {"x": {"field": "c", "type": "nominal", "sort": null}, "y": {"field": "hi", "type": "quantitative"}}
},
{
"mark": {"type": "tick", "color": "#111", "thickness": 2, "size": 10},
"encoding": {"x": {"field": "c", "type": "nominal", "sort": null}, "y": {"field": "lo", "type": "quantitative"}}
}
]
}
],
"resolve": {"scale": {"x": "independent", "y": "independent"}}
}
